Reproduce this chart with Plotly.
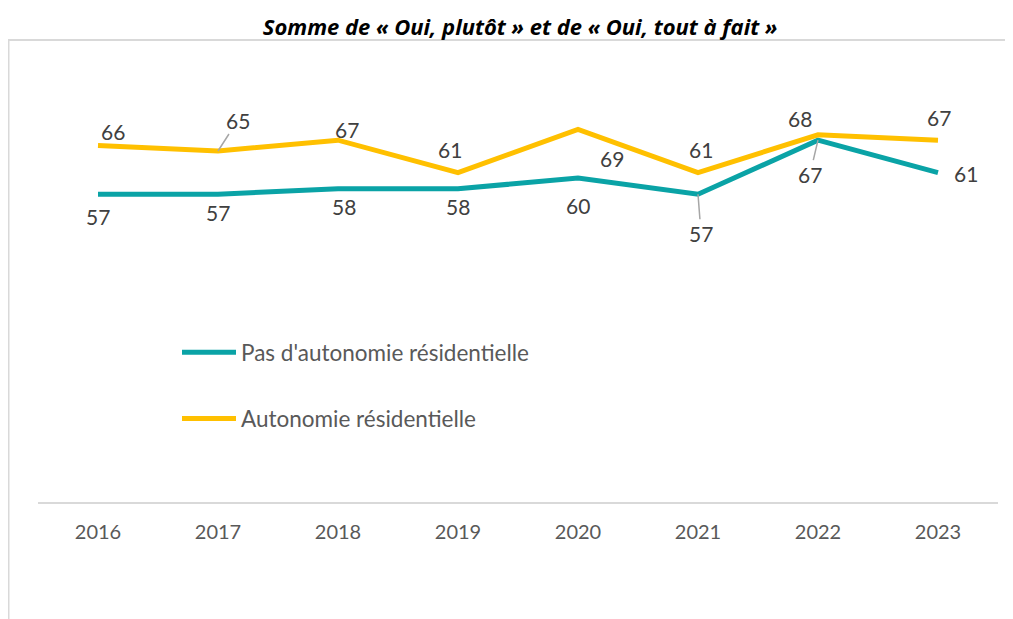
import plotly.graph_objects as go

years = ["2016", "2017", "2018", "2019", "2020", "2021", "2022", "2023"]
pas_autonomie = [57, 57, 58, 58, 60, 57, 67, 61]
autonomie = [66, 65, 67, 61, 69, 61, 68, 67]

name_pas = "Pas d'autonomie résidentielle"
name_auto = "Autonomie résidentielle"
title_text = "Somme de « Oui, plutôt » et de « Oui, tout à fait »"

TEAL = "#0AA3A6"
YELLOW = "#FFC000"
LABEL_COL = "#404040"
TICK_COL = "#595959"
FONT = "Lato"

# label offsets in pixels (dx, dy screen-down), and whether a leader line is drawn
off_auto = [(15, -14), (20, -31), (9, -11), (-8, -23), (34, 29), (3, -23), (-18, -16), (1, -23)]
lead_auto = [False, True, False, False, False, False, False, False]
off_pas = [(0, 22), (0, 18), (6, 18), (0, 18), (0, 27), (3, 39), (-8, 34), (28, 1)]
lead_pas = [False, False, False, False, False, True, True, False]

# page has an 8px body margin: figure is drawn from (8, 8)
W, H = 1005, 611
ML, MR, MT, MB = 30, 15, 62, 117
PW, PH = W - ML - MR, H - MT - MB

fig = go.Figure()
fig.add_trace(go.Scatter(x=years, y=pas_autonomie, mode="lines", name=name_pas,
                         line=dict(color=TEAL, width=5), legendgroup="a"))
fig.add_trace(go.Scatter(x=years, y=autonomie, mode="lines", name=name_auto,
                         line=dict(color=YELLOW, width=5), legendgroup="b"))

ann = []
for vals, offs, leads in ((autonomie, off_auto, lead_auto), (pas_autonomie, off_pas, lead_pas)):
    for i, (v, (dx, dy), ld) in enumerate(zip(vals, offs, leads)):
        ann.append(dict(x=i, y=v, xref="x", yref="y", text=str(v), showarrow=True,
                        ax=dx, ay=dy, axref="pixel", ayref="pixel", arrowhead=0, arrowwidth=1.5,
                        arrowcolor="#A6A6A6" if ld else "rgba(255,255,255,0)",
                        font=dict(family=FONT, size=21, color=LABEL_COL)))

fig.update_layout(
    width=W, height=H,
    margin=dict(l=ML, r=MR, t=MT, b=MB),
    paper_bgcolor="white", plot_bgcolor="white",
    title=dict(text="<b><i>" + title_text + "</i></b>", x=512 / W, xanchor="center",
               y=1 - 19 / H, yanchor="middle", yref="container",
               font=dict(family="Open Sans", size=22, color="#000000")),
    xaxis=dict(type="category", range=[-0.5, 7.5], showline=True, linecolor="#D9D9D9",
               linewidth=2, showgrid=False, ticks="", zeroline=False,
               tickfont=dict(family=FONT, size=20, color=TICK_COL), ticklabelstandoff=11),
    yaxis=dict(range=[0, 80], visible=False, showgrid=False, zeroline=False),
    showlegend=True,
    legend=dict(x=(177 - 38) / PW, y=(502 - 331) / PH, xanchor="left", yanchor="top",
                traceorder="grouped", tracegroupgap=34, bgcolor="rgba(0,0,0,0)",
                font=dict(family=FONT, size=22.5, color=TICK_COL), itemwidth=54),
    annotations=ann,
    shapes=[dict(type="rect", xref="paper", yref="paper",
                 x0=(0.5 - ML) / PW, x1=(1030 - ML) / PW,
                 y0=(MT + PH - 640) / PH, y1=(MT + PH - 32) / PH,
                 line=dict(color="#D9D9D9", width=2), layer="below")],
)

fig.write_html("out.html")
